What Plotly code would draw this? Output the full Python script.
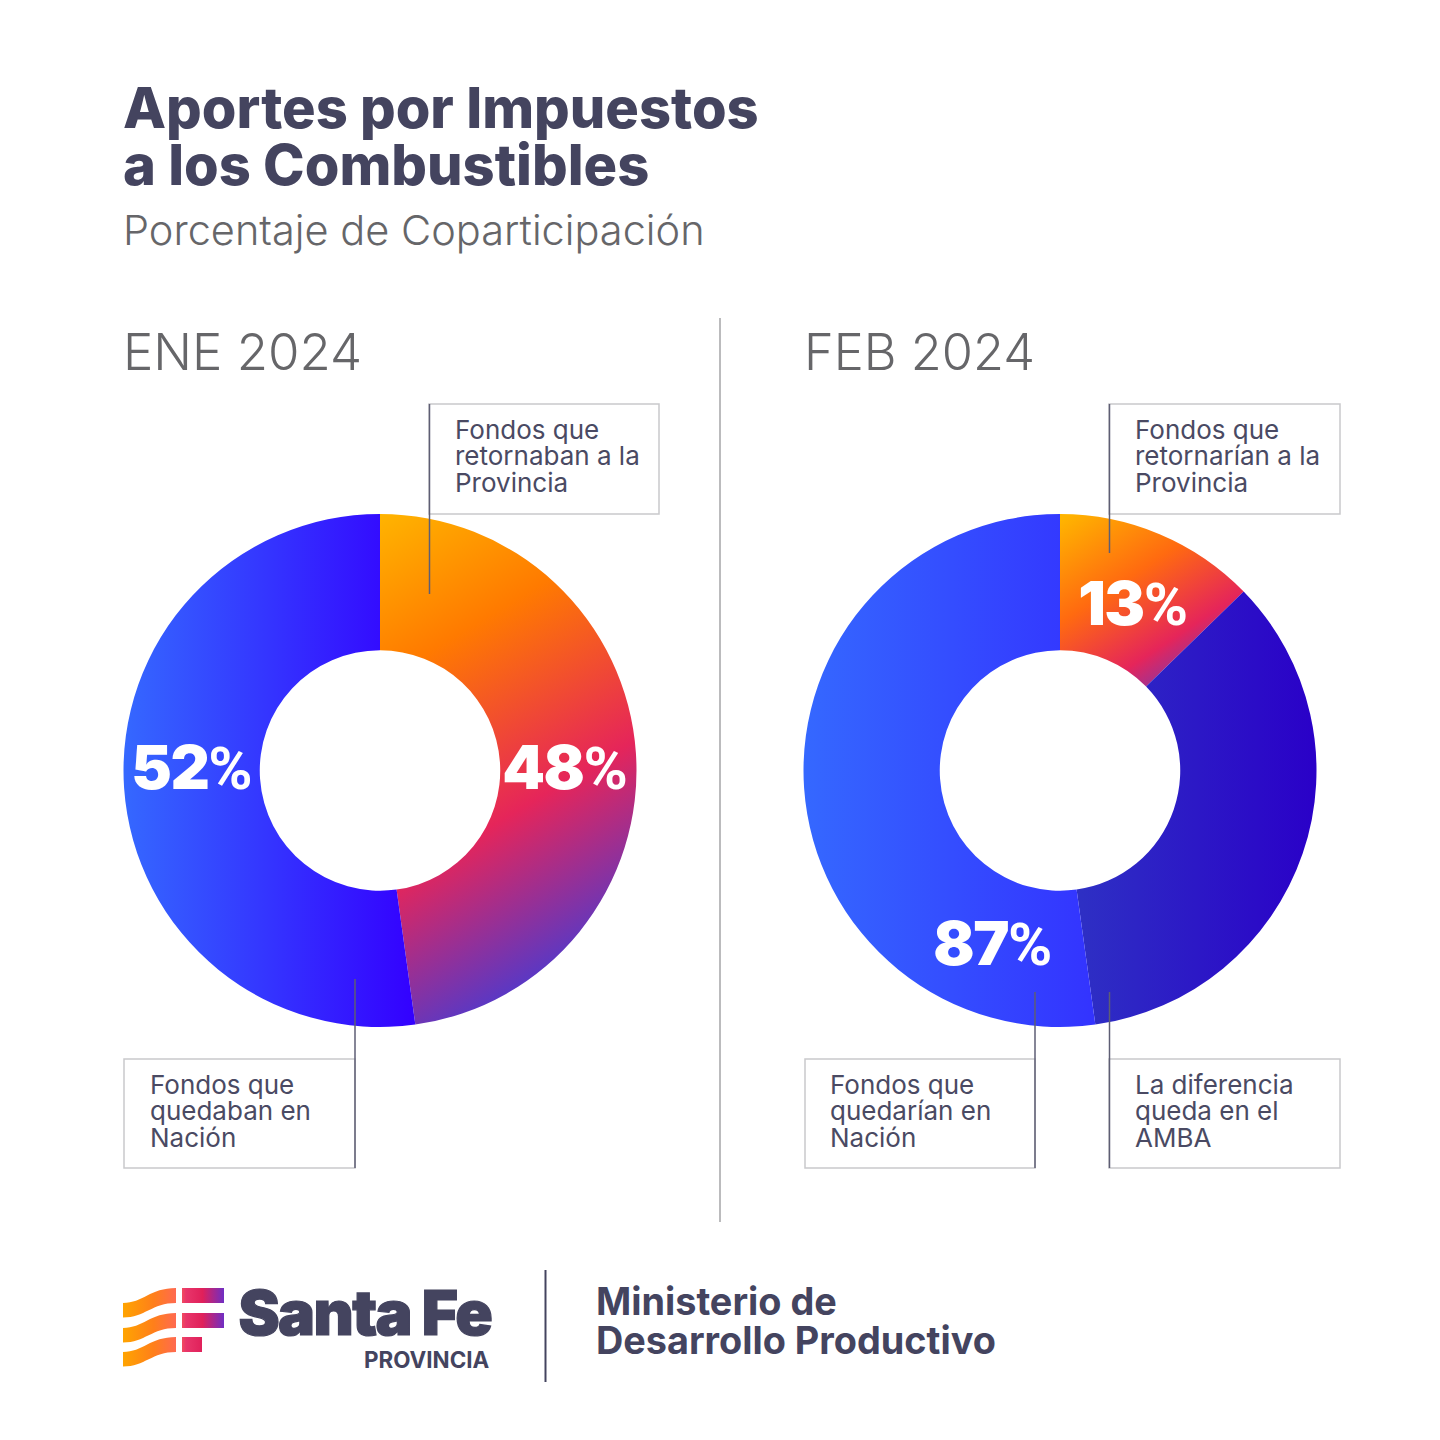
import plotly.graph_objects as go

# ---- data ----
ene_labels = ["Fondos que retornaban a la Provincia", "Fondos que quedaban en Nación"]
ene_values = [47.8, 52.2]
feb_labels = ["Fondos que retornarían a la Provincia", "La diferencia queda en el AMBA", "Fondos que quedarían en Nación"]
feb_values = [12.7, 35.1, 52.2]
ene_text = ["48%", "52%"]
feb_text = ["13%", "87%"]

W = H = 1440
INK = "#44445F"
NOTE = "#4A4A63"
GREY = "#666669"
FONT = "Inter"

def px(x): return x / W
def py(y): return 1 - y / H

fig = go.Figure()
for labels, values, x0 in [(ene_labels, ene_values, 123.5), (feb_labels, feb_values, 803.5)]:
    fig.add_trace(go.Pie(
        labels=labels, values=values, sort=False, direction="clockwise", rotation=0,
        hole=120 / 256, textinfo="none", hoverinfo="skip", showlegend=False,
        marker=dict(colors=["#FF7A00"] + ["#3333FF"] * (len(values) - 1), line=dict(width=0)),
        domain=dict(x=[px(x0), px(x0 + 513)], y=[py(1027), py(514)]),
    ))

shapes, notes = [], []

def line(x0, y0, x1, y1, color, width):
    shapes.append(dict(type="line", xref="paper", yref="paper", x0=px(x0), y0=py(y0), x1=px(x1), y1=py(y1),
                       line=dict(color=color, width=width)))

def box(x0, y0, x1, y1):
    shapes.append(dict(type="rect", xref="paper", yref="paper", x0=px(x0), y0=py(y0), x1=px(x1), y1=py(y1),
                       line=dict(color="#C9C9CC", width=1.5), fillcolor="rgba(0,0,0,0)"))

def text(x, y, s, size, color, weight=400):
    notes.append(dict(xref="paper", yref="paper", x=px(x), y=py(y), text=s, showarrow=False,
                      xanchor="left", yanchor="middle", borderpad=0,
                      font=dict(family=FONT, size=size, color=color, weight=weight)))

def pct(x, y, s):
    text(x, y, s[:-1] + '<span style="font-family:Roboto;font-size:60px;font-weight:700">%</span>', 61, "#FFFFFF", 900)

def logo_path(d):
    shapes.append(dict(type="path", xref="paper", yref="paper", path=d, line=dict(width=0), fillcolor="#E5255A"))

def wave(dy):
    pts = [(123, 1303), (143, 1303), (150, 1288), (176, 1288), (176, 1303), (152, 1303), (145, 1317.5), (123, 1317.5)]
    p = [(px(a), py(b + dy)) for a, b in pts]
    return (f"M{p[0][0]},{p[0][1]} C{p[1][0]},{p[1][1]} {p[2][0]},{p[2][1]} {p[3][0]},{p[3][1]} "
            f"L{p[4][0]},{p[4][1]} C{p[5][0]},{p[5][1]} {p[6][0]},{p[6][1]} {p[7][0]},{p[7][1]} Z")

def rect_path(x0, y0, x1, y1):
    return f"M{px(x0)},{py(y0)} L{px(x1)},{py(y0)} L{px(x1)},{py(y1)} L{px(x0)},{py(y1)} Z"

for dy in (0, 25, 49):
    logo_path(wave(dy))
logo_path(rect_path(182, 1288, 224, 1303))
logo_path(rect_path(182, 1313, 224, 1328))
logo_path(rect_path(182, 1337, 202, 1352))

# divider rules
line(720, 318, 720, 1222, "#BBBBBD", 2)
line(545.5, 1270, 545.5, 1382, INK, 2)

# callout boxes and leaders
box(429, 404, 659, 514); line(429.5, 404, 429.5, 594, "#5E5E74", 1.5)
box(124, 1059, 355, 1168); line(355, 979, 355, 1168, "#5E5E74", 1.5)
box(1109, 404, 1340, 514); line(1109.5, 404, 1109.5, 553, "#5E5E74", 1.5)
box(805, 1059, 1035, 1168); line(1035, 992, 1035, 1168, "#5E5E74", 1.5)
box(1109, 1059, 1340, 1168); line(1109.5, 992, 1109.5, 1168, "#5E5E74", 1.5)

# titles
text(122, 108, "Aportes por Impuestos", 56, INK, 800)
text(122, 165, "a los Combustibles", 56, INK, 800)
text(122, 230, "Porcentaje de Coparticipación", 41.5, GREY, 300)
text(122, 351, "ENE 2024", 51, GREY, 300)
text(803, 351, "FEB 2024", 50.5, GREY, 300)

# callout text
for x, y, lines in [(454, 429.5, ["Fondos que", "retornaban a la", "Provincia"]),
                    (149, 1084.5, ["Fondos que", "quedaban en", "Nación"]),
                    (1134, 429.5, ["Fondos que", "retornarían a la", "Provincia"]),
                    (829, 1084.5, ["Fondos que", "quedarían en", "Nación"]),
                    (1134, 1084.5, ["La diferencia", "queda en el", "AMBA"])]:
    for i, s in enumerate(lines):
        text(x, y + i * 26.3, s, 26, NOTE, 400)

# value labels
pct(499, 767, ene_text[0])
pct(128, 767, ene_text[1])
pct(1075, 603, feb_text[0])
pct(930, 943, feb_text[1])

# footer
text(231, 1312, "Santa Fe", 62, INK, 900)
text(363, 1359.5, "PROVINCIA", 22.4, INK, 700)
text(595, 1301, "Ministerio de", 37.8, INK, 700)
text(595, 1339.5, "Desarrollo Productivo", 37.8, INK, 700)

fig.update_layout(width=W, height=H, margin=dict(l=0, r=0, t=0, b=0), paper_bgcolor="#FFFFFF",
                  plot_bgcolor="#FFFFFF", shapes=shapes, annotations=notes, font=dict(family=FONT))

post = """
document.body.style.margin = '0';
var gd = document.querySelector('.js-plotly-plot');
var svg = gd.querySelector('svg.main-svg');
var NS = 'http://www.w3.org/2000/svg';
var defs = document.createElementNS(NS, 'defs');
svg.insertBefore(defs, svg.firstChild);
function grad(id, x1, y1, x2, y2, stops, user) {
  var g = document.createElementNS(NS, 'linearGradient');
  g.setAttribute('id', id);
  g.setAttribute('x1', x1); g.setAttribute('y1', y1);
  g.setAttribute('x2', x2); g.setAttribute('y2', y2);
  if (user) g.setAttribute('gradientUnits', 'userSpaceOnUse');
  stops.forEach(function (s) {
    var st = document.createElementNS(NS, 'stop');
    st.setAttribute('offset', s[0]);
    st.setAttribute('stop-color', s[1]);
    g.appendChild(st);
  });
  defs.appendChild(g);
}
grad('g48', 0, 0, 0.3, 1, [[0, '#FFB400'], [0.3, '#FF7A00'], [0.68, '#E5255A'], [1, '#5A38C4']]);
grad('g52', 0, 0, 1, 0, [[0, '#3568FF'], [1, '#3300FF']]);
grad('g13', 0.05, 0, 0.75, 1, [[0, '#FFB400'], [0.4, '#FF6A10'], [0.75, '#E5255A'], [1, '#6A3CC0']]);
grad('g35', 0, 0, 1, 0, [[0, '#2E30C4'], [1, '#2A00C8']]);
grad('g87', 0, 0, 1, 0, [[0, '#3568FF'], [1, '#3333FF']]);
grad('logo', 123, 0, 225, 0, [[0, '#FFA400'], [0.3, '#FF7F1A'], [0.52, '#FF6A50'], [0.62, '#E8356A'], [0.78, '#E0205A'], [1, '#6A2FC8']], true);
var traces = gd.querySelectorAll('.trace');
var ids = [['g48', 'g52'], ['g13', 'g35', 'g87']];
traces.forEach(function (t, i) {
  t.querySelectorAll('.slice path.surface').forEach(function (p, j) {
    p.style.fill = 'url(#' + ids[i][j] + ')';
  });
});
for (var k = 0; k < 6; k++) {
  gd.querySelectorAll('.shapelayer path[data-index="' + k + '"]').forEach(function (p) {
    p.style.fill = 'url(#logo)';
  });
}
gd.querySelectorAll('.annotation-text').forEach(function (t) {
  var s = t.textContent;
  if (s.slice(-1) === '%') {
    t.style.letterSpacing = '-1.5px';
  } else if (s === 'Santa Fe') {
    t.style.letterSpacing = '-1.6px';
    t.style.stroke = t.style.fill;
    t.style.strokeWidth = '1.2px';
  }
});
"""
fig.write_html("out.html", post_script=post, config=dict(displayModeBar=False))
